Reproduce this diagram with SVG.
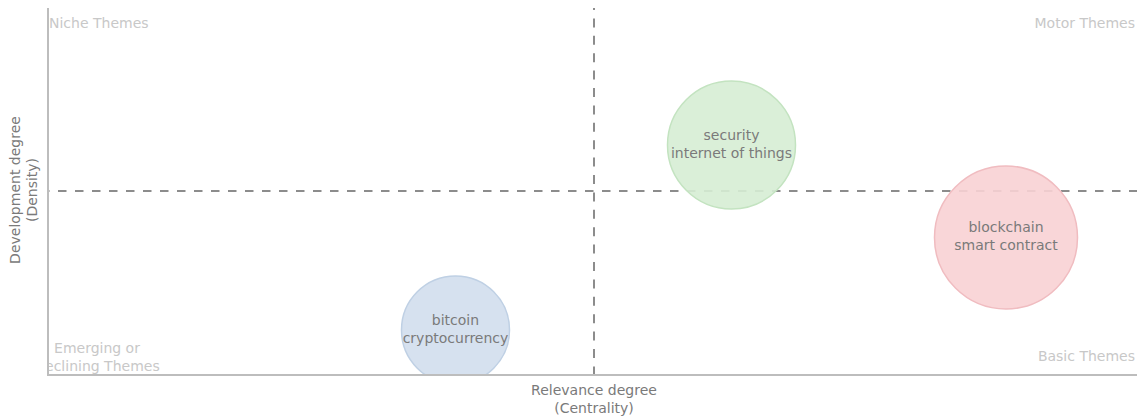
<svg xmlns="http://www.w3.org/2000/svg" width="1137" height="418" viewBox="0 0 1137 418">
<style>
text{font-family:"DejaVu Sans","Liberation Sans",sans-serif;font-size:14px}
.q{fill:#c8c8c8}
.ax{fill:#7a7a7a}
.nl{fill:#7a7a7a;text-anchor:middle}
.dash{stroke:#8c8c8c;stroke-width:2;fill:none}
.axis{stroke:#bdbdbd;stroke-width:2;fill:none}
</style>
<defs>
<clipPath id="plot"><rect x="48" y="0" width="1089" height="375"/></clipPath>
</defs>
<rect width="1137" height="418" fill="#ffffff"/>
<g id="connectors">
<line class="dash" x1="594" y1="8" x2="594" y2="375" stroke-dasharray="9 8.4" stroke-dashoffset="7"/>
<line class="dash" x1="48" y1="191" x2="1137" y2="191" stroke-dasharray="8.5 8.5" stroke-dashoffset="7"/>
</g>
<g clip-path="url(#plot)">
<g id="node-security">
<circle cx="731.5" cy="145" r="64" fill="#d6edd4" stroke="#c3e3c0" stroke-width="1.5" fill-opacity="0.9"/>
<text class="nl" x="731.5" y="140">security</text>
<text class="nl" x="731.5" y="158">internet of things</text>
</g>
<g id="node-blockchain">
<circle cx="1006" cy="237.5" r="71.5" fill="#f8d1d4" stroke="#f0bcc0" stroke-width="1.5" fill-opacity="0.9"/>
<text class="nl" x="1006" y="232">blockchain</text>
<text class="nl" x="1006" y="250">smart contract</text>
</g>
<g id="node-bitcoin">
<circle cx="455.5" cy="330" r="54" fill="#d2deed" stroke="#bfd0e4" stroke-width="1.5" fill-opacity="0.9"/>
<text class="nl" x="455.5" y="325">bitcoin</text>
<text class="nl" x="455.5" y="343">cryptocurrency</text>
</g>
<g id="quadrant-labels">
<text class="q" x="49" y="28">Niche Themes</text>
<text class="q" x="1135" y="28" text-anchor="end">Motor Themes</text>
<text class="q" x="1135" y="361" text-anchor="end">Basic Themes</text>
<text class="q" x="97" y="353" text-anchor="middle">Emerging or</text>
<text class="q" x="97" y="371" text-anchor="middle">Declining Themes</text>
</g>
</g>
<g id="axes">
<line class="axis" x1="48" y1="8" x2="48" y2="376"/>
<line class="axis" x1="47" y1="375" x2="1137" y2="375"/>
</g>
<g id="axis-labels">
<text class="ax" x="594" y="395" text-anchor="middle">Relevance degree</text>
<text class="ax" x="594" y="413" text-anchor="middle">(Centrality)</text>
<text class="ax" transform="translate(20,190) rotate(-90)" text-anchor="middle">Development degree</text>
<text class="ax" transform="translate(37,190) rotate(-90)" text-anchor="middle">(Density)</text>
</g>
</svg>
